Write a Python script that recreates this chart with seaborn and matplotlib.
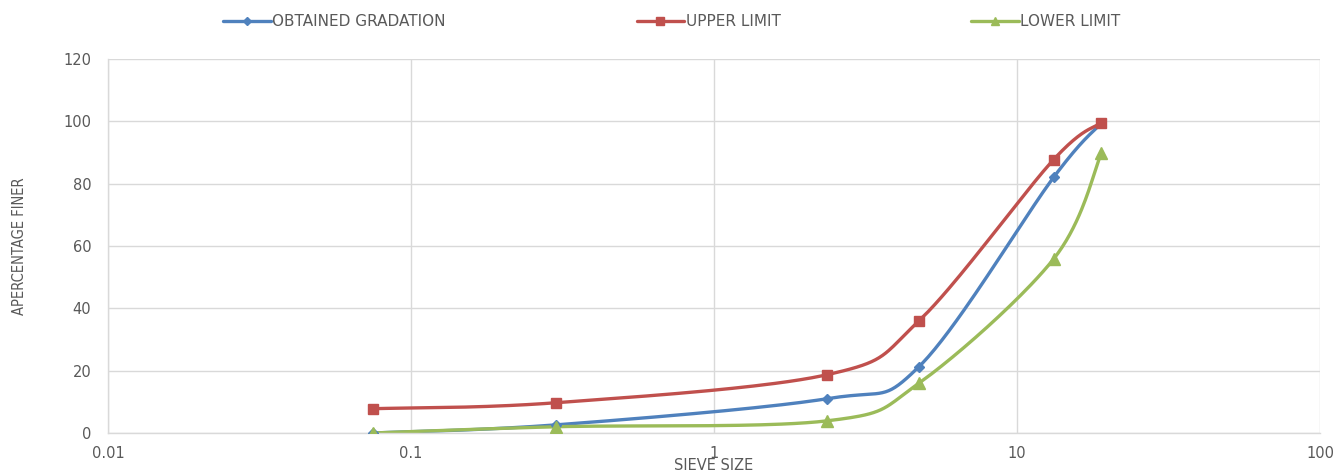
import numpy as np
import matplotlib
matplotlib.use("Agg")
import matplotlib.pyplot as plt
import seaborn as sns

# Sieve analysis data
sieve_size = [0.075, 0.3, 2.36, 4.75, 13.2, 19.0]
obtained = [0.0, 2.6, 11.0, 21.3, 82.0, 99.5]
upper_limit = [7.8, 9.7, 18.7, 36.0, 87.7, 99.6]
lower_limit = [0.0, 2.0, 3.9, 16.0, 55.8, 89.8]

series_names = ["OBTAINED GRADATION", "UPPER LIMIT", "LOWER LIMIT"]
x_ticks = [0.01, 0.1, 1, 10, 100]
x_tick_labels = ["0.01", "0.1", "1", "10", "100"]
y_ticks = [0, 20, 40, 60, 80, 100, 120]

sns.set_theme(style="white")
plt.rcParams["font.family"] = ["DejaVu Sans"]

fig = plt.figure(figsize=(13.38, 4.75), dpi=100)
ax = fig.add_axes([108 / 1338, 1 - 433 / 475, (1320 - 108) / 1338, (433 - 59) / 475])
ax.set_xscale("log")
ax.set_xlim(0.01, 100)
ax.set_ylim(0, 120)

# pixel scale of the plot area, used for spreadsheet-style curve smoothing
px_per_decade = (1320 - 108) / 4.0
px_per_unit = (433 - 59) / 120.0


def smooth_curve(xs, ys, n=40):
    """Bezier smoothing through every point (Catmull-Rom control points)."""
    px = np.log10(xs) * px_per_decade
    py = np.asarray(ys, dtype=float) * px_per_unit
    pts = np.column_stack([px, py])
    out = [pts[0]]
    for i in range(len(pts) - 1):
        p0 = pts[i - 1] if i > 0 else pts[i]
        p1 = pts[i]
        p2 = pts[i + 1]
        p3 = pts[i + 2] if i + 2 < len(pts) else pts[i + 1]
        c1 = p1 + (p2 - p0) / 6.0
        c2 = p2 - (p3 - p1) / 6.0
        t = np.linspace(0, 1, n)[1:, None]
        seg = ((1 - t) ** 3) * p1 + 3 * ((1 - t) ** 2) * t * c1 + 3 * (1 - t) * t ** 2 * c2 + t ** 3 * p2
        out.extend(seg)
    out = np.array(out)
    return 10 ** (out[:, 0] / px_per_decade), out[:, 1] / px_per_unit


colors = ["#4F81BD", "#C0504D", "#9BBB59"]
markers = ["D", "s", "^"]
msizes = [5.5, 7.5, 8]
handles = []
for vals, name, c, m, ms in zip([obtained, upper_limit, lower_limit], series_names, colors, markers, msizes):
    sx, sy = smooth_curve(sieve_size, vals)
    sns.lineplot(x=sx, y=sy, ax=ax, color=c, linewidth=2.4, sort=False, estimator=None, legend=False)
    ax.plot(sieve_size, vals, linestyle="none", marker=m, markersize=ms, color=c, zorder=4)
    h, = ax.plot([], [], color=c, linewidth=2.4, marker=m, markersize=ms * 0.8, label=name)
    handles.append(h)

ax.set_xticks(x_ticks)
ax.set_xticklabels(x_tick_labels)
ax.xaxis.set_minor_locator(matplotlib.ticker.NullLocator())
ax.set_yticks(y_ticks)
ax.grid(True, color="#D9D9D9", linewidth=1)
for s in ["top", "right"]:
    ax.spines[s].set_visible(False)
for s in ["left", "bottom"]:
    ax.spines[s].set_color("#D9D9D9")
    ax.spines[s].set_linewidth(1)
ax.tick_params(axis="both", length=0, labelsize=10.5, labelcolor="#595959")
ax.tick_params(axis="y", pad=12)
ax.tick_params(axis="x", pad=9)

ax.set_xlabel("SIEVE SIZE", fontsize=10.5, color="#595959", va="bottom")
ax.xaxis.set_label_coords(0.5, -40 / 374)
ax.set_ylabel("APERCENTAGE FINER", fontsize=10.5, fontstretch="condensed", color="#595959", labelpad=26)

fig.legend(handles=handles, loc="center", bbox_to_anchor=(672 / 1338, 1 - 22 / 475), ncol=3,
           frameon=False, handlelength=3.1, handletextpad=0.1, columnspacing=12.5,
           prop={"size": 11}, labelcolor="#595959")

fig.savefig("out.png", dpi=100)
